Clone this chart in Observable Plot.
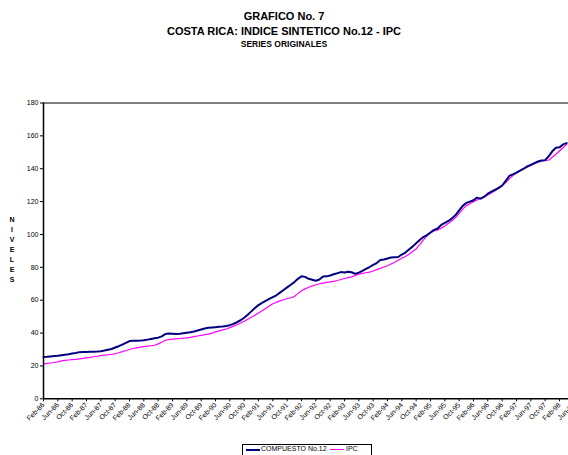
<!DOCTYPE html>
<html>
<head>
<meta charset="utf-8">
<script src="https://cdn.jsdelivr.net/npm/d3@7"></script>
<script src="https://cdn.jsdelivr.net/npm/@observablehq/plot@0.6"></script>
<style>
  html, body { margin: 0; padding: 0; background: #fff; }
  body { width: 568px; height: 455px; overflow: hidden; position: relative; font-family: "Liberation Sans", Arial, sans-serif; }
  .t { position: absolute; left: 0; width: 568px; text-align: center; font-weight: bold; color: #000; white-space: nowrap; }
  #t1 { top: 10px; font-size: 11px; }
  #t2 { top: 25px; font-size: 11px; }
  #t3 { top: 39px; font-size: 8.5px; }
  #ylab { position: absolute; left: 6px; width: 12px; top: 215px; text-align: center; font-weight: bold; font-size: 7px; line-height: 10px; }
  #chart { position: absolute; left: 0; top: 60px; width: 600px; }
  #chart svg { max-width: none !important; width: 600px; height: 380px; }
  #legend { position: absolute; left: 242px; top: 444px; width: 128px; height: 20px; border: 1px solid #000; background: #fff; font-size: 7px; }
  .sw { position: absolute; top: 4px; height: 0; }
  .lt { position: absolute; top: 0px; white-space: nowrap; }
</style>
</head>
<body>
<div class="t" id="t1">GRAFICO No. 7</div>
<div class="t" id="t2">COSTA RICA: INDICE SINTETICO No.12 - IPC</div>
<div class="t" id="t3">SERIES ORIGINALES</div>
<div id="ylab">N<br>I<br>V<br>E<br>L<br>E<br>S</div>
<div id="chart"></div>
<div id="legend">
  <div class="sw" style="left:3px;width:14px;border-top:2px solid #000080;"></div>
  <div class="lt" style="left:18px;">COMPUESTO No.12</div>
  <div class="sw" style="left:87px;width:14px;border-top:1.5px solid #ff00ff;"></div>
  <div class="lt" style="left:103px;">IPC</div>
</div>
<script>
// Monthly series, Feb-86 onward
const compuesto = [
  25.5,25.6,25.8,26.0,26.2,26.5,26.8,27.1,27.5,27.9,
  28.4,28.5,28.5,28.6,28.7,28.8,29.0,29.4,29.9,30.3,
  31.2,32.0,33.0,34.0,35.1,35.3,35.3,35.4,35.6,36.0,
  36.4,36.8,37.2,38.0,39.4,39.7,39.6,39.5,39.6,39.9,
  40.2,40.5,41.0,41.6,42.2,42.8,43.2,43.4,43.6,43.8,
  44.0,44.3,44.8,45.6,46.6,47.8,49.3,51.2,53.2,55.2,
  57.0,58.4,59.6,60.8,61.9,63.0,64.6,66.2,67.8,69.4,
  71.0,73.0,74.6,74.2,73.0,72.4,71.8,72.6,74.4,74.5,
  75.0,75.8,76.4,77.1,76.8,77.3,77.0,76.0,76.8,77.8,
  79.0,80.2,81.5,82.6,84.4,84.8,85.4,86.0,86.2,86.3,
  87.8,89.0,90.8,92.6,94.6,96.6,98.4,99.6,101.2,102.8,
  103.6,105.8,107.0,108.2,109.8,111.8,114.6,117.4,119.2,120.0,
  120.8,122.4,121.8,123.0,124.8,126.0,127.2,128.4,129.8,132.6,
  135.6,136.6,137.6,138.8,140.0,141.4,142.4,143.4,144.4,145.0,
  145.2,147.6,150.6,152.8,153.0,154.8,155.6
];
const ipc = [
  21.3,21.5,21.8,22.1,22.5,23.1,23.4,23.6,23.8,24.0,
  24.3,24.6,24.9,25.2,25.6,25.9,26.3,26.6,26.8,27.0,
  27.4,28.0,28.7,29.4,30.0,30.6,31.0,31.4,31.7,32.0,
  32.3,32.6,33.4,34.4,35.6,36.1,36.3,36.5,36.7,36.9,
  37.1,37.4,37.8,38.2,38.6,39.0,39.4,40.0,40.7,41.3,
  41.9,42.5,43.3,44.2,45.1,46.1,47.2,48.4,49.6,50.8,
  52.2,53.6,55.0,56.4,57.8,58.8,59.6,60.3,60.9,61.5,
  62.2,64.0,65.8,66.9,67.9,68.7,69.4,70.0,70.4,70.8,
  71.2,71.5,72.0,72.6,73.2,73.7,74.2,75.0,75.8,76.3,
  76.7,77.1,77.8,78.6,79.4,80.2,81.0,82.0,83.1,84.3,
  85.5,86.6,88.0,89.6,91.2,93.8,96.6,99.2,101.0,102.2,
  102.8,103.8,105.2,106.8,108.3,110.3,112.8,115.4,117.4,118.8,
  120.0,121.0,121.8,122.8,124.0,125.2,126.6,128.0,129.6,131.6,
  133.8,135.8,137.4,138.8,140.0,141.0,142.0,143.0,144.0,144.8,
  145.0,145.2,147.0,148.8,150.8,152.8,154.8
];
const tickLabels = [
  "Feb-86","Jun-86","Oct-86","Feb-87","Jun-87","Oct-87","Feb-88","Jun-88","Oct-88",
  "Feb-89","Jun-89","Oct-89","Feb-90","Jun-90","Oct-90","Feb-91","Jun-91","Oct-91",
  "Feb-92","Jun-92","Oct-92","Feb-93","Jun-93","Oct-93","Feb-94","Jun-94","Oct-94",
  "Feb-95","Jun-95","Oct-95","Feb-96","Jun-96","Oct-96","Feb-97","Jun-97","Oct-97",
  "Feb-98","Jun-98"
];
const yTicks = [0,20,40,60,80,100,120,140,160,180];
const seriesNames = ["COMPUESTO No.12", "IPC"];

const rows = [];
compuesto.forEach((v, i) => rows.push({i, v, s: seriesNames[0]}));
ipc.forEach((v, i) => rows.push({i, v, s: seriesNames[1]}));
const tickPos = tickLabels.map((_, k) => k * 4);

const chart = Plot.plot({
  width: 600,
  height: 380,
  marginLeft: 43,
  marginRight: 26.7,
  marginTop: 42.5,
  marginBottom: 41.7,
  x: {domain: [0, 148], axis: null, label: null},
  y: {domain: [0, 180], axis: null, label: null},
  style: {fontFamily: "'Liberation Sans', Arial, sans-serif", fontSize: "7px", color: "#000", overflow: "visible", background: "transparent", maxWidth: "none"},
  marks: [
    Plot.ruleY([180], {stroke: "#808080", strokeWidth: 2}),
    Plot.line(rows.filter(d => d.s === seriesNames[1]), {x: "i", y: "v", stroke: "#ff00ff", strokeWidth: 1.2}),
    Plot.line(rows.filter(d => d.s === seriesNames[0]), {x: "i", y: "v", stroke: "#000080", strokeWidth: 2}),
    Plot.ruleX([0], {stroke: "#000", strokeWidth: 1.5}),
    Plot.ruleY([0], {stroke: "#000", strokeWidth: 1.5}),
    Plot.axisY({ticks: yTicks, tickSize: 3, tickPadding: 2, tickFormat: d => String(d), fontSize: 7, label: null}),
    Plot.axisX({ticks: tickPos, tickSize: 3, tickPadding: 2, tickRotate: -45, tickFormat: d => tickLabels[Math.round(d / 4)], fontSize: 7, label: null})
  ]
});
document.getElementById("chart").appendChild(chart);
</script>
</body>
</html>
